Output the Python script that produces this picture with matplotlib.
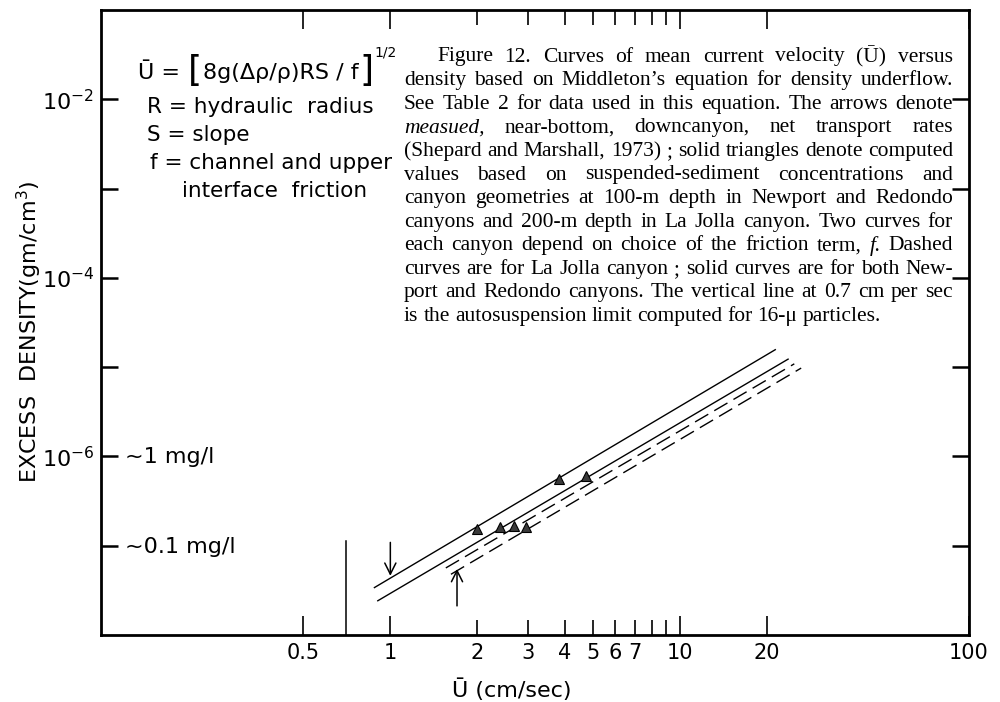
import numpy as np
import matplotlib.pyplot as plt
from matplotlib.ticker import FixedLocator, FixedFormatter, NullFormatter

# curves: (U start, U end), (density start, density end)
solid_u = [[0.881, 21.4], [0.905, 23.7]]
solid_rho = [[3.40e-8, 1.57e-5], [2.42e-8, 1.23e-5]]
dashed_u = [[1.555, 24.9], [1.62, 26.3]]
dashed_rho = [[5.64e-8, 1.09e-5], [4.79e-8, 9.77e-6]]

# computed values (solid triangles)
tri_u = [1.99, 2.40, 2.67, 2.95, 3.84, 4.74]
tri_rho = [1.56e-7, 1.62e-7, 1.66e-7, 1.62e-7, 5.65e-7, 6.0e-7]

# measured transport (arrows): U, tail, tip
arrow_u = [1.0, 1.7]
arrow_tail = [1.09e-7, 2.12e-8]
arrow_tip = [4.6e-8, 5.5e-8]

# autosuspension limit
limit_u = 0.7
limit_top = 1.13e-7

x_major = [0.5, 1, 10, 20, 100]
x_major_labels = ['0.5', '1', '10', '20', '100']
x_minor = [2, 3, 4, 5, 6, 7, 8, 9]
x_minor_labels = ['2', '3', '4', '5', '6', '7', '', '']
y_ticks = [1e-7, 1e-6, 1e-5, 1e-4, 1e-3, 1e-2]
y_labels = ['', r'$10^{-6}$', '', r'$10^{-4}$', '', r'$10^{-2}$']

caption = [
    "Figure 12. Curves of mean current velocity (Ū) versus",
    "density based on Middleton’s equation for density underflow.",
    "See Table 2 for data used in this equation. The arrows denote",
    "measued, near-bottom, downcanyon, net transport rates",
    "(Shepard and Marshall, 1973) ; solid triangles denote computed",
    "values based on suspended-sediment concentrations and",
    "canyon geometries at 100-m depth in Newport and Redondo",
    "canyons and 200-m depth in La Jolla canyon. Two curves for",
    "each canyon depend on choice of the friction term, f. Dashed",
    "curves are for La Jolla canyon ; solid curves are for both New-",
    "port and Redondo canyons. The vertical line at 0.7 cm per sec",
    "is the autosuspension limit computed for 16-μ particles.",
]
italic_words = {'measued,', 'f.'}

plt.rcParams['font.family'] = 'DejaVu Sans'
plt.rcParams['mathtext.default'] = 'regular'

W, H = 1000, 702
fig = plt.figure(figsize=(10, 7.02), dpi=100)
ax = fig.add_axes([0.101, 0.0954, 0.868, 0.8903])
ax.set_xscale('log')
ax.set_yscale('log')
ax.set_xlim(0.1, 100)
ax.set_ylim(1e-8, 1e-1)

for u, r in zip(solid_u, solid_rho):
    ax.plot(u, r, color='black', lw=1.0)
for u, r in zip(dashed_u, dashed_rho):
    ln, = ax.plot(u, r, color='black', lw=1.0)
    ln.set_dashes((11, 5))

ax.plot(tri_u, tri_rho, linestyle='none', marker='^', ms=7.5,
        color='#3a3a3a', markeredgecolor='black', markeredgewidth=0.8)

ax.plot([limit_u, limit_u], [1e-8, limit_top], color='black', lw=1.1)

for u, t0, t1 in zip(arrow_u, arrow_tail, arrow_tip):
    ax.annotate('', xy=(u, t1), xytext=(u, t0),
                arrowprops=dict(arrowstyle='->', lw=1.1, color='black',
                                mutation_scale=20, shrinkA=0, shrinkB=0))

for s in ax.spines.values():
    s.set_linewidth(2.0)

ax.xaxis.set_major_locator(FixedLocator(x_major))
ax.xaxis.set_major_formatter(FixedFormatter(x_major_labels))
ax.xaxis.set_minor_locator(FixedLocator(x_minor))
ax.xaxis.set_minor_formatter(FixedFormatter(x_minor_labels))
ax.yaxis.set_major_locator(FixedLocator(y_ticks))
ax.yaxis.set_major_formatter(FixedFormatter(y_labels))
ax.yaxis.set_minor_locator(FixedLocator([]))
ax.yaxis.set_minor_formatter(NullFormatter())

ax.tick_params(axis='x', which='major', direction='in', length=14, width=1.2,
               top=True, labelsize=15, pad=6)
ax.tick_params(axis='x', which='minor', direction='in', length=11, width=1.2,
               top=True, labelsize=15, pad=6)
ax.tick_params(axis='y', which='major', direction='in', length=12, width=1.8,
               right=True, labelsize=16, pad=5)

fig.text(512 / W, 1 - 690 / H, 'Ū (cm/sec)', fontsize=16, ha='center', va='center')
ax.set_ylabel('EXCESS  DENSITY(gm/cm$^3$)', fontsize=16)
ax.yaxis.set_label_coords(-0.066, 0.485)

# concentration notes
fig.text(125 / W, 1 - 457 / H, '~1 mg/l', fontsize=16, va='center')
fig.text(125 / W, 1 - 547 / H, '~0.1 mg/l', fontsize=16, va='center')

renderer = fig.canvas.get_renderer()

# equation block, built piece by piece so the brackets can be large
pieces = [('Ū =', 16, 0, 8), ('[', 26, 2, 1), ('8g(Δρ/ρ)RS / f', 16, 0, 1),
          (']', 26, 2, 1), ('1/2', 10, -22, 0)]
x = 138
for txt, size, dy_px, gap in pieces:
    t = fig.text(x / W, 1 - (79 + dy_px) / H, txt, fontsize=size, va='baseline')
    x += t.get_window_extent(renderer).width + gap
fig.text(147 / W, 1 - 107 / H, 'R = hydraulic  radius', fontsize=15.5, va='center')
fig.text(147 / W, 1 - 135 / H, 'S = slope', fontsize=15.5, va='center')
fig.text(150 / W, 1 - 163 / H, 'f = channel and upper', fontsize=15.5, va='center')
fig.text(182 / W, 1 - 191 / H, 'interface  friction', fontsize=15.5, va='center')

# caption, justified
x_left, x_right, x_first = 404, 953, 437
y0, dy = 57, 23.6
for i, line in enumerate(caption):
    words = line.split(' ')
    texts = []
    for w in words:
        style = 'italic' if w in italic_words else 'normal'
        texts.append(fig.text(0, 1 - (y0 + i * dy) / H, w, fontsize=15.5,
                              family='Liberation Serif', style=style,
                              va='center'))
    widths = [t.get_window_extent(renderer).width for t in texts]
    start = x_first if i == 0 else x_left
    if i == len(caption) - 1:
        gap = 5
    else:
        gap = max((x_right - start - sum(widths)) / (len(words) - 1), 2)
    x = start
    for t, w in zip(texts, widths):
        t.set_x(x / W)
        x += w + gap

fig.savefig('out.png', dpi=100, facecolor='white')
